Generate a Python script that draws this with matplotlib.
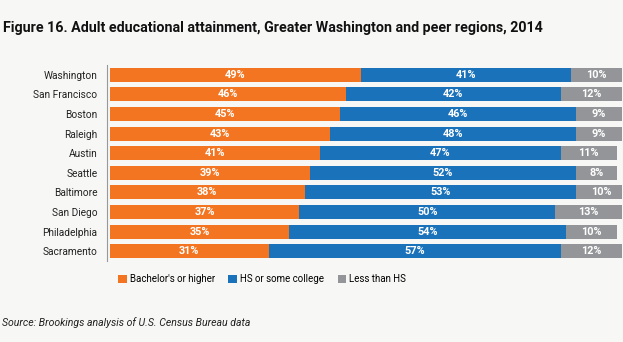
import matplotlib
matplotlib.use("Agg")
import matplotlib.pyplot as plt
from matplotlib.patches import Patch

regions = ["Washington", "San Francisco", "Boston", "Raleigh", "Austin",
           "Seattle", "Baltimore", "San Diego", "Philadelphia", "Sacramento"]
bachelors = [49, 46, 45, 43, 41, 39, 38, 37, 35, 31]
hs_some = [41, 42, 46, 48, 47, 52, 53, 50, 54, 57]
less_hs = [10, 12, 9, 9, 11, 8, 10, 13, 10, 12]
series_names = ["Bachelor's or higher", "HS or some college", "Less than HS"]
colors = ["#f47521", "#1a72bb", "#939598"]

bg = "#f7f7f5"
plt.rcParams['font.family'] = ['Roboto', 'DejaVu Sans']

fig = plt.figure(figsize=(6.23, 3.42), dpi=100, facecolor=bg)
ax = fig.add_axes([110/623, 1-261/342, 512/623, 196/342])
ax.set_facecolor(bg)
for s in ['top', 'right', 'bottom']:
    ax.spines[s].set_visible(False)
ax.spines['left'].set_position(('outward', 2))
ax.spines['left'].set_color('#999999')
ax.spines['left'].set_linewidth(0.8)

y = list(range(len(regions)))
left = [0]*len(regions)
for vals, col in zip([bachelors, hs_some, less_hs], colors):
    ax.barh(y, vals, left=left, color=col, height=0.72, edgecolor='none')
    for yi, l, v in zip(y, left, vals):
        ax.text(l + v/2, yi, f"{v}%", ha='center', va='center', color='white',
                fontsize=7.8, fontweight='bold')
    left = [a+b for a, b in zip(left, vals)]

ax.set_xlim(0, 100)
ax.set_ylim(len(regions)-0.5, -0.5)
ax.set_yticks(y)
ax.set_yticklabels(regions)
ax.tick_params(axis='y', length=0, pad=7, labelsize=7.3, labelcolor='#222222')
ax.set_xticks([])

fig.text(3/623, 1-28/342, "Figure 16. Adult educational attainment, Greater Washington and peer regions, 2014",
         fontsize=10.3, fontweight='bold', ha='left', va='center', color='#111111')

handles = [Patch(facecolor=c, edgecolor='none') for c in colors]
fig.legend(handles, series_names, loc='center', bbox_to_anchor=(262/623, 1-279/342),
           ncol=3, frameon=False, fontsize=7.0, handlelength=0.9, handleheight=0.9,
           handletextpad=0.3, columnspacing=1.4)

fig.text(2/623, 1-323/342, "Source: Brookings analysis of U.S. Census Bureau data",
         fontsize=7.6, fontstyle='italic', ha='left', va='center', color='#222222')

fig.savefig("out.png", dpi=100, facecolor=bg)
